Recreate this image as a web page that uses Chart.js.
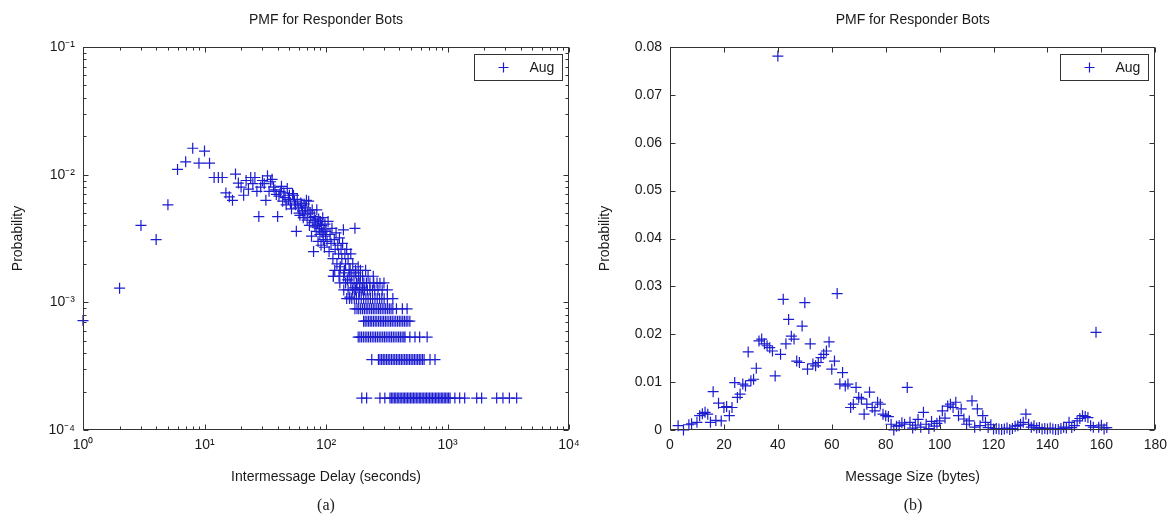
<!DOCTYPE html>
<html>
<head>
<meta charset="utf-8">
<script src="https://cdn.jsdelivr.net/npm/chart.js@4.4.1/dist/chart.umd.min.js"></script>
<style>
body{margin:0;background:#fff;width:1174px;height:522px;position:relative;overflow:hidden}
canvas{position:absolute;top:0}
#left{left:0}
#right{left:587px}
.cap{position:absolute;top:496px;width:40px;text-align:center;font:16px "Liberation Serif",serif;color:#222}
</style>
</head>
<body>
<canvas id="left" width="587" height="522"></canvas>
<canvas id="right" width="587" height="522"></canvas>
<div class="cap" style="left:306px">(a)</div>
<div class="cap" style="left:893px">(b)</div>
<script>
const titleText = 'PMF for Responder Bots';
const legendLabel = 'Aug';

const delayTicks = [1, 10, 100, 1000, 10000];
const delayTickLabels = ['10⁰', '10¹', '10²', '10³', '10⁴'];
const logProbTicks = [0.0001, 0.001, 0.01, 0.1];
const logProbTickLabels = ['10⁻⁴', '10⁻³', '10⁻²', '10⁻¹'];

const sizeTicks = [0, 20, 40, 60, 80, 100, 120, 140, 160, 180];
const sizeProbTicks = [0, 0.01, 0.02, 0.03, 0.04, 0.05, 0.06, 0.07, 0.08];
const sizeProbTickLabels = ['0', '0.01', '0.02', '0.03', '0.04', '0.05', '0.06', '0.07', '0.08'];

// intermessage delay (s), probability
const delayPoints = [
  [1,0.00072],[2,0.00129],[3,0.0040],[4,0.0031],[5,0.0058],[6,0.0110],[7,0.0126],[8,0.0161],[9,0.0123],[10,0.0153],
  [11,0.0123],[12,0.0095],[13,0.0095],[14,0.0095],[15,0.0072],[16,0.0067],[17,0.0063],[18,0.0101],[19,0.0086],[20,0.0080],
  [21,0.0069],[22,0.0090],[23,0.0077],[24,0.0095],[25,0.0085],[26,0.0095],[27,0.0074],[28,0.0047],[29,0.0080],[30,0.0090],
  [31,0.0085],[32,0.0063],[33,0.0098],[34,0.0074],[35,0.0088],[36,0.0092],[37,0.0080],[38,0.0076],[39,0.0070],[40,0.0047],
  [41,0.0068],[42,0.0074],[43,0.0081],[44,0.0062],[45,0.0072],[46,0.0066],[47,0.0058],[48,0.0078],[49,0.0064],[50,0.0069],
  [51,0.0060],[52,0.0054],[53,0.0071],[54,0.0069],[55,0.0062],[56,0.0058],[57,0.0036],[58,0.0064],[59,0.0055],[60,0.0050],
  [61,0.0048],[62,0.0060],[63,0.0057],[64,0.0052],[65,0.0046],[66,0.0059],[67,0.0049],[68,0.0055],[69,0.0063],[70,0.0044],
  [71,0.0052],[72,0.0062],[73,0.0040],[74,0.0050],[75,0.0046],[76,0.0033],[77,0.0053],[78,0.0042],[79,0.0025],[80,0.0047],
  [81,0.0039],[82,0.0044],[83,0.0036],[84,0.0053],[85,0.0041],[86,0.0030],[87,0.0045],[88,0.0038],[89,0.0034],[90,0.0043],
  [91,0.0028],[92,0.0040],[93,0.0035],[94,0.0046],[95,0.0031],[96,0.0037],[97,0.0027],[98,0.0041],[99,0.0033],[100,0.0036],
  [102,0.0030],[104,0.0043],[106,0.0025],[108,0.0034],[110,0.0029],[112,0.0038],[114,0.0022],[115,0.0016],[117,0.0031],[119,0.0026],
  [121,0.0035],[123,0.0020],[125,0.0028],[127,0.0024],[129,0.0032],[131,0.0019],[133,0.0026],[135,0.0022],[137,0.0029],[139,0.0037],
  [141,0.0017],[143,0.0024],[145,0.0020],[148,0.0026],[150,0.0015],[152,0.0022],[155,0.0018],[157,0.0011],[160,0.0024],[163,0.0016],
  [166,0.0020],[170,0.0013],[173,0.0038],[176,0.0017],[180,0.0014],[184,0.0019],[188,0.0012],[192,0.0016],[200,0.0013],[278,0.00141],
  // 10 counts
  [118,0.00178],[130,0.00178],[142,0.00178],[158,0.00178],[175,0.00178],[192,0.00178],[212,0.00178],
  // 9 counts
  [115,0.0016],[128,0.0016],[140,0.0016],[155,0.0016],[170,0.0016],[185,0.0016],[200,0.0016],[222,0.0016],[245,0.0016],
  // 8 counts
  [130,0.00142],[145,0.00142],[160,0.00142],[178,0.00142],[190,0.00142],[205,0.00142],[215,0.00142],[230,0.00142],
  [247,0.00142],[263,0.00142],[300,0.00142],
  // 7 counts
  [140,0.00125],[152,0.00125],[165,0.00125],[175,0.00125],[189,0.00125],[198,0.00125],[208,0.00125],[219,0.00125],
  [230,0.00125],[241,0.00125],[252,0.00125],[268,0.00125],[290,0.00125],[320,0.00125],
  // 6 counts
  [148,0.00107],[156,0.00107],[163,0.00107],[171,0.00107],[178,0.00107],[186,0.00107],[195,0.00107],[204,0.00107],
  [213,0.00107],[222,0.00107],[232,0.00107],[242,0.00107],[253,0.00107],[264,0.00107],[276,0.00107],[288,0.00107],
  [301,0.00107],[320,0.00107],[355,0.00107],
  // 5 counts
  [173,0.00089],[180,0.00089],[186,0.00089],[193,0.00089],[200,0.00089],[207,0.00089],[214,0.00089],[221,0.00089],
  [229,0.00089],[237,0.00089],[245,0.00089],[253,0.00089],[262,0.00089],[271,0.00089],[280,0.00089],[290,0.00089],
  [300,0.00089],[310,0.00089],[321,0.00089],[332,0.00089],[343,0.00089],[355,0.00089],[380,0.00089],[425,0.00089],[465,0.00089],
  // 4 counts
  [204,0.000712],[210,0.000712],[217,0.000712],[224,0.000712],[231,0.000712],[238,0.000712],[246,0.000712],[254,0.000712],
  [262,0.000712],[271,0.000712],[280,0.000712],[289,0.000712],[298,0.000712],[308,0.000712],[318,0.000712],[329,0.000712],
  [340,0.000712],[351,0.000712],[363,0.000712],[375,0.000712],[388,0.000712],[401,0.000712],[414,0.000712],[428,0.000712],
  [442,0.000712],[457,0.000712],[472,0.000712],[490,0.000712],
  // 3 counts
  [184,0.000534],[190,0.000534],[196,0.000534],[203,0.000534],[210,0.000534],[217,0.000534],[224,0.000534],[232,0.000534],
  [240,0.000534],[248,0.000534],[256,0.000534],[265,0.000534],[274,0.000534],[283,0.000534],[293,0.000534],[303,0.000534],
  [313,0.000534],[324,0.000534],[335,0.000534],[346,0.000534],[358,0.000534],[370,0.000534],[383,0.000534],[396,0.000534],
  [409,0.000534],[423,0.000534],[437,0.000534],[447,0.000534],[490,0.000534],[540,0.000534],[590,0.000534],[680,0.000534],
  // 2 counts
  [238,0.000356],[270,0.000356],[278,0.000356],[287,0.000356],[296,0.000356],[305,0.000356],[315,0.000356],[325,0.000356],
  [335,0.000356],[346,0.000356],[357,0.000356],[368,0.000356],[380,0.000356],[392,0.000356],[404,0.000356],[417,0.000356],
  [430,0.000356],[444,0.000356],[458,0.000356],[472,0.000356],[487,0.000356],[502,0.000356],[518,0.000356],[534,0.000356],
  [551,0.000356],[568,0.000356],[586,0.000356],[604,0.000356],[623,0.000356],[642,0.000356],[718,0.000356],[789,0.000356],
  // 1 count
  [197,0.000178],[216,0.000178],[278,0.000178],[305,0.000178],[336,0.000178],[345,0.000178],[355,0.000178],[365,0.000178],
  [375,0.000178],[386,0.000178],[397,0.000178],[408,0.000178],[420,0.000178],[432,0.000178],[444,0.000178],[456,0.000178],
  [469,0.000178],[482,0.000178],[496,0.000178],[510,0.000178],[524,0.000178],[539,0.000178],[554,0.000178],[570,0.000178],
  [586,0.000178],[602,0.000178],[619,0.000178],[637,0.000178],[655,0.000178],[673,0.000178],[692,0.000178],[712,0.000178],
  [732,0.000178],[752,0.000178],[774,0.000178],[796,0.000178],[818,0.000178],[841,0.000178],[865,0.000178],[889,0.000178],
  [914,0.000178],[940,0.000178],[966,0.000178],[993,0.000178],[1021,0.000178],[1050,0.000178],[1150,0.000178],[1260,0.000178],
  [1385,0.000178],[1740,0.000178],[1910,0.000178],[2540,0.000178],[2860,0.000178],[3230,0.000178],[3710,0.000178]
];

// message size (bytes), probability
const sizePoints = [
  [3,0.0009],[5,0.0000],[7,0.0011],[8,0.0013],[10,0.0016],[11,0.0030],[12,0.0034],[13,0.0037],[14,0.0033],[15,0.0016],
  [16,0.0080],[17,0.0020],[18,0.0056],[19,0.0019],[20,0.0047],[21,0.0049],[22,0.0030],[23,0.0047],[24,0.0099],[25,0.0068],
  [26,0.0075],[27,0.0096],[28,0.0092],[29,0.0163],[30,0.0103],[31,0.0106],[32,0.0129],[33,0.0186],[34,0.0190],[35,0.0180],
  [36,0.0176],[37,0.0172],[38,0.0165],[39,0.0113],[40,0.0781],[41,0.0158],[42,0.0273],[43,0.0180],[44,0.0231],[45,0.0196],
  [46,0.0190],[47,0.0144],[48,0.0141],[49,0.0217],[50,0.0266],[51,0.0127],[52,0.0180],[53,0.0138],[54,0.0134],[55,0.0141],
  [56,0.0151],[57,0.0158],[58,0.0165],[59,0.0184],[60,0.0127],[61,0.0144],[62,0.0285],[63,0.0096],[64,0.0120],[65,0.0092],
  [66,0.0096],[67,0.0047],[68,0.0054],[69,0.0089],[70,0.0068],[71,0.0065],[72,0.0033],[73,0.0054],[74,0.0079],[75,0.0047],
  [76,0.0040],[77,0.0058],[78,0.0054],[79,0.0033],[80,0.0030],[81,0.0028],[82,0.0012],[83,0.0000],[84,0.0008],[85,0.0009],
  [86,0.0015],[87,0.0012],[88,0.0089],[89,0.0016],[90,0.0004],[91,0.0010],[92,0.0022],[93,0.0006],[94,0.0037],[95,0.0012],
  [96,0.0003],[97,0.0018],[98,0.0008],[99,0.0014],[100,0.0019],[101,0.0040],[102,0.0025],[103,0.0050],[104,0.0054],[105,0.0047],
  [106,0.0058],[107,0.0030],[108,0.0044],[109,0.0023],[110,0.0012],[111,0.0019],[112,0.0061],[113,0.0006],[114,0.0044],[115,0.0009],
  [116,0.0030],[117,0.0016],[118,0.0005],[119,0.0011],[120,0.0002],[121,0.0003],[122,0.0002],[123,0.0001],[124,0.0002],[125,0.0004],
  [126,0.0001],[127,0.0003],[128,0.0008],[129,0.0009],[130,0.0012],[131,0.0016],[132,0.0033],[133,0.0012],[134,0.0006],[135,0.0009],
  [136,0.0004],[137,0.0005],[138,0.0002],[139,0.0003],[140,0.0002],[141,0.0004],[142,0.0002],[143,0.0001],[144,0.0001],[145,0.0003],
  [146,0.0006],[147,0.0004],[148,0.0016],[149,0.0005],[150,0.0009],[151,0.0019],[152,0.0024],[153,0.0030],[154,0.0028],[155,0.0026],
  [156,0.0009],[157,0.0006],[158,0.0204],[159,0.0006],[160,0.0010],[161,0.0002],[162,0.0005]
];

const FONT = '"Liberation Sans", Arial, sans-serif';
const TEXT = '#1a1a1a';
const MARK = '#1c1cd0';

// MATLAB-like box with inward ticks
const axesBox = {
  id: 'axesBox',
  afterDatasetsDraw(chart) {
    const {ctx, chartArea: a, scales} = chart;
    const L = Math.round(a.left) + 0.5, R = Math.round(a.right) - 0.5;
    const T = Math.round(a.top) + 0.5, B = Math.round(a.bottom) - 0.5;
    ctx.save();
    ctx.strokeStyle = '#333';
    ctx.lineWidth = 1;
    ctx.beginPath();
    const tick = (sc, v, len) => {
      const p = Math.round(sc.getPixelForValue(v)) + 0.5;
      if (sc.isHorizontal()) {
        ctx.moveTo(p, B); ctx.lineTo(p, B - len);
        ctx.moveTo(p, T); ctx.lineTo(p, T + len);
      } else {
        ctx.moveTo(L, p); ctx.lineTo(L + len, p);
        ctx.moveTo(R, p); ctx.lineTo(R - len, p);
      }
    };
    [scales.x, scales.y].forEach(sc => {
      sc.ticks.forEach(t => tick(sc, t.value, 5));
      if (sc.type === 'logarithmic') {
        const e0 = Math.round(Math.log10(sc.min)), e1 = Math.round(Math.log10(sc.max));
        for (let e = e0; e < e1; e++)
          for (let k = 2; k < 10; k++) tick(sc, k * Math.pow(10, e), 3);
      }
    });
    ctx.stroke();
    ctx.strokeRect(L, T, R - L, B - T);
    ctx.restore();
  }
};

const boxLegend = {
  id: 'boxLegend',
  afterDraw(chart) {
    const {ctx, chartArea: a} = chart;
    const w = 88, h = 26;
    const lx = Math.round(a.right - 7 - w) + 0.5, ly = Math.round(a.top + 7) + 0.5;
    ctx.save();
    ctx.fillStyle = '#fff';
    ctx.fillRect(lx, ly, w, h);
    ctx.strokeStyle = '#333';
    ctx.lineWidth = 1;
    ctx.strokeRect(lx, ly, w, h);
    const cx = lx + 29, cy = ly + h / 2;
    ctx.strokeStyle = chart.data.datasets[0].borderColor;
    ctx.lineWidth = 1.2;
    ctx.beginPath();
    ctx.moveTo(cx - 5, cy); ctx.lineTo(cx + 5, cy);
    ctx.moveTo(cx, cy - 5); ctx.lineTo(cx, cy + 5);
    ctx.stroke();
    ctx.fillStyle = TEXT;
    ctx.font = '14px ' + FONT;
    ctx.textBaseline = 'middle';
    ctx.fillText(legendLabel, lx + 55, cy + 1);
    ctx.restore();
  }
};

function axis(type, min, max, values, labels, titleText, horizontal) {
  return {
    type, min, max,
    afterBuildTicks: s => { s.ticks = values.map(v => ({value: v})); },
    afterFit: s => { if (horizontal) s.height = 56; else s.width = 83; },
    grid: {display: false, drawTicks: false},
    border: {display: false},
    ticks: {
      autoSkip: false, maxRotation: 0, padding: horizontal ? 7 : 8,
      color: TEXT, font: {family: FONT, size: 14},
      callback: (v, i) => labels[i]
    },
    title: {
      display: true, text: titleText, color: TEXT,
      font: {family: FONT, size: 14},
      padding: horizontal ? {top: 0, bottom: 0} : {top: 10, bottom: 0}
    }
  };
}

function makeChart(id, points, xAxis, yAxis) {
  return new Chart(document.getElementById(id), {
    type: 'scatter',
    data: {
      datasets: [{
        label: legendLabel,
        data: points.map(p => ({x: p[0], y: p[1]})),
        pointStyle: 'cross', pointRadius: 5.5, pointHoverRadius: 5.5,
        borderColor: MARK, backgroundColor: MARK, borderWidth: 1.2,
        clip: false
      }]
    },
    options: {
      responsive: false, animation: false, devicePixelRatio: 1,
      layout: {padding: {left: 0, right: 18, top: 0, bottom: 36}},
      scales: {x: xAxis, y: yAxis},
      plugins: {
        legend: {display: false},
        tooltip: {enabled: false},
        title: {
          display: true, text: titleText, fullSize: false, color: TEXT,
          font: {family: FONT, size: 14, weight: 'normal'},
          padding: {top: 11.6, bottom: 18.6}
        }
      }
    },
    plugins: [axesBox, boxLegend]
  });
}

makeChart('left', delayPoints,
  axis('logarithmic', 1, 10000, delayTicks, delayTickLabels, 'Intermessage Delay (seconds)', true),
  axis('logarithmic', 0.0001, 0.1, logProbTicks, logProbTickLabels, 'Probability', false));

makeChart('right', sizePoints,
  axis('linear', 0, 180, sizeTicks, sizeTicks.map(String), 'Message Size (bytes)', true),
  axis('linear', 0, 0.08, sizeProbTicks, sizeProbTickLabels, 'Probability', false));
</script>
</body>
</html>
